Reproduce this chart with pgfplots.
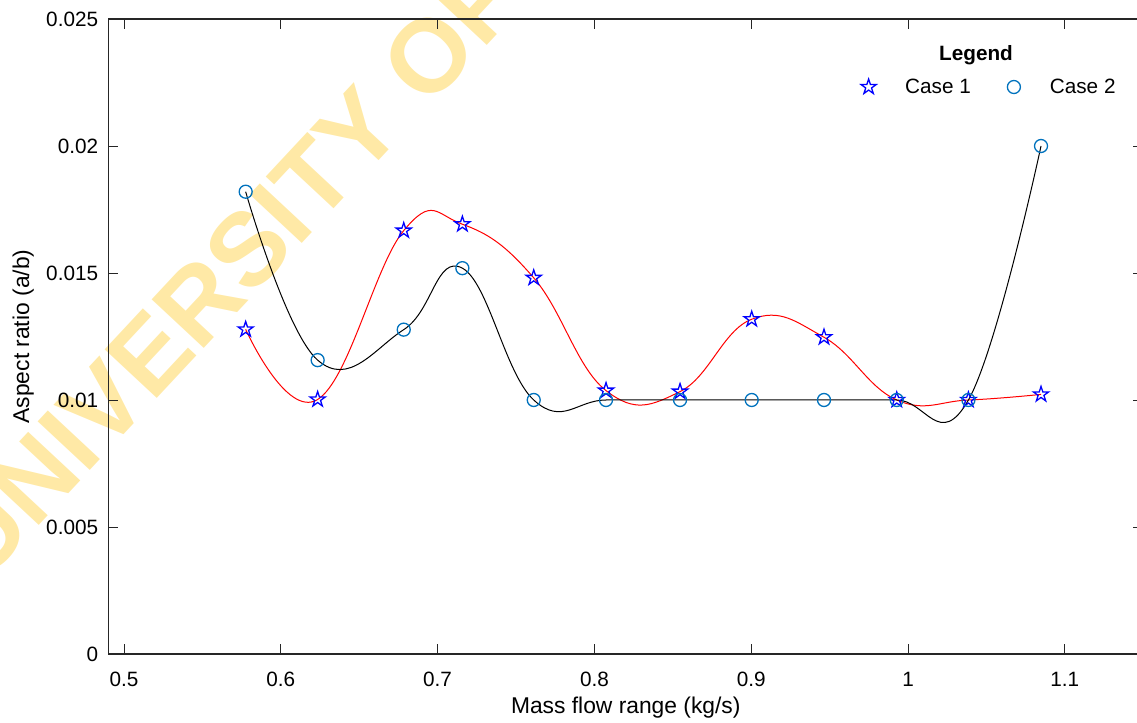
\documentclass[border=0pt]{standalone}
\usepackage{fontspec}
\setmainfont{Liberation Sans}
\usepackage{pgfplots}
\usepackage{pgfplotstable}
\pgfplotsset{compat=1.18}

\definecolor{mblue}{rgb}{0,0.447,0.741}
\definecolor{wmyellow}{RGB}{255,233,166}

% outlined five-point star, MATLAB 'p' style
\pgfdeclareplotmark{pentagram}{%
  \pgfpathmoveto{\pgfpointpolar{90}{\pgfplotmarksize}}%
  \pgfpathlineto{\pgfpointpolar{126}{0.382\pgfplotmarksize}}%
  \pgfpathlineto{\pgfpointpolar{162}{\pgfplotmarksize}}%
  \pgfpathlineto{\pgfpointpolar{198}{0.382\pgfplotmarksize}}%
  \pgfpathlineto{\pgfpointpolar{234}{\pgfplotmarksize}}%
  \pgfpathlineto{\pgfpointpolar{270}{0.382\pgfplotmarksize}}%
  \pgfpathlineto{\pgfpointpolar{306}{\pgfplotmarksize}}%
  \pgfpathlineto{\pgfpointpolar{342}{0.382\pgfplotmarksize}}%
  \pgfpathlineto{\pgfpointpolar{18}{\pgfplotmarksize}}%
  \pgfpathlineto{\pgfpointpolar{54}{0.382\pgfplotmarksize}}%
  \pgfpathclose
  \pgfusepathqstroke
}

\pgfplotstableread{
x      c1      c2
0.5776 0.01278 0.01820
0.6235 0.01002 0.01157
0.6784 0.01667 0.01277
0.7158 0.01692 0.01519
0.7613 0.01481 0.01000
0.8074 0.01037 0.01000
0.8546 0.01033 0.01000
0.9003 0.01318 0.01000
0.9464 0.01247 0.01000
0.9928 0.01000 0.01000
1.0385 0.01000 0.01000
1.0848 0.01022 0.02000
}\ardata

\begin{document}
\begin{tikzpicture}
% watermark behind the plot
\node[rotate=47, text=wmyellow, font=\fontsize{104}{104}\bfseries\selectfont]
  at (120bp,384bp) {UNIVERSITY OF};
\begin{axis}[
  scale only axis,
  width=1035bp, height=635bp,
  xmin=0.49, xmax=1.15,
  ymin=0, ymax=0.025,
  xtick={0.5,0.6,0.7,0.8,0.9,1,1.1},
  xticklabels={0.5,0.6,0.7,0.8,0.9,1,1.1},
  ytick={0,0.005,0.01,0.015,0.02,0.025},
  yticklabels={0,0.005,0.01,0.015,0.02,0.025},
  tick align=inside,
  major tick length=10bp,
  axis line style={black!85, line width=1.1bp},
  tick style={black!85, line width=0.9bp},
  ticklabel style={font=\fontsize{20.8}{24}\selectfont, inner sep=0pt},
  xticklabel style={yshift=-18bp},
  yticklabel style={xshift=-10bp},
  xlabel={Mass flow range (kg/s)},
  ylabel={Aspect ratio (a/b)},
  label style={font=\fontsize{22.9}{27}\selectfont},
  xlabel style={at={(axis description cs:0.5,-0.085)}, anchor=center},
  ylabel style={at={(axis description cs:-0.0821,0.5)}, anchor=center},
  legend columns=2,
  legend style={draw=none, fill=none, at={(0.7273,0.8929)}, anchor=west,
    inner sep=0pt, outer sep=0pt, nodes={inner sep=0pt},
    font=\fontsize{20.8}{24}\selectfont,
    /tikz/every odd column/.append style={column sep=29bp},
    /tikz/every even column/.append style={column sep=36bp}},
  legend image code/.code={%
    \path[draw=none, fill=none] (-7bp,-7bp) rectangle (7bp,7bp);
    \draw[#1] plot coordinates {(0bp,0bp)};},
]
\addplot[red, line width=1bp, smooth, tension=0.72, forget plot]
  table[x=x, y=c1] {\ardata};
\addplot[black, line width=1bp, smooth, tension=0.72, forget plot]
  table[x=x, y=c2] {\ardata};
\addplot[only marks, mark=pentagram, mark size=8bp, blue, line width=1.3bp]
  table[x=x, y=c1] {\ardata};
\addlegendentry{Case 1}
\addplot[only marks, mark=o, mark size=6.5bp, mblue, line width=1.3bp]
  table[x=x, y=c2] {\ardata};
\addlegendentry{Case 2}
\node[font=\fontsize{20.8}{24}\bfseries\selectfont]
  at (rel axis cs:0.8384,0.9433) {Legend};
\end{axis}
\pgfresetboundingbox
\path[use as bounding box] (-108.3bp,-69bp) rectangle (1028.7bp,654bp);
\end{tikzpicture}
\end{document}
